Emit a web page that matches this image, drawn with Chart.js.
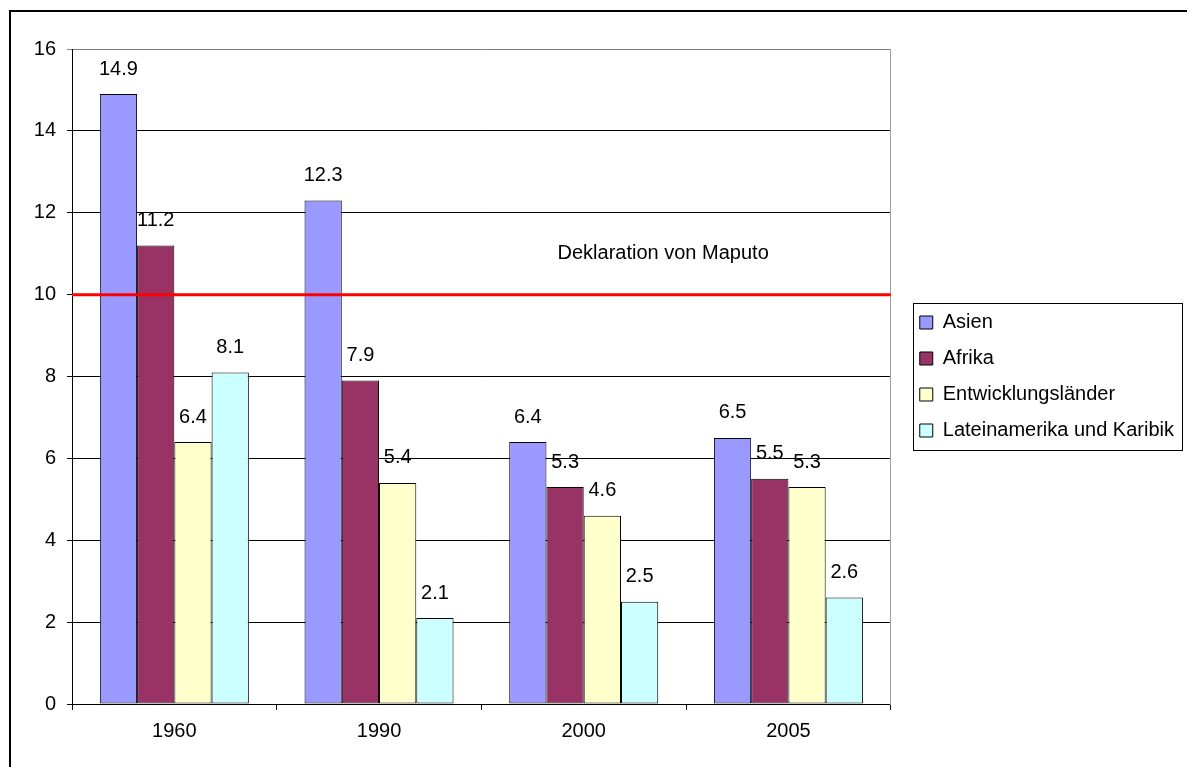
<!DOCTYPE html>
<html>
<head>
<meta charset="utf-8">
<script src="https://cdn.jsdelivr.net/npm/chart.js@4"></script>
<style>
  body { margin: 0; background: #fff; }
  canvas { display: block; }
</style>
</head>
<body>
<canvas id="chart" width="1187" height="767"></canvas>
<script>
// values
const years = ["1960", "1990", "2000", "2005"];
const asien = [14.9, 12.3, 6.4, 6.5];
const afrika = [11.2, 7.9, 5.3, 5.5];
const entwicklungslaender = [6.4, 5.4, 4.6, 5.3];
const lateinamerika = [8.1, 2.1, 2.5, 2.6];
const yTicks = [0, 2, 4, 6, 8, 10, 12, 14, 16];
const maputoLevel = 10;
const maputoText = "Deklaration von Maputo";

const font = "'Liberation Sans', Arial, sans-serif";

// outer frame, red line, its caption, numbers over the bars, legend frame
const extras = {
  id: "extras",
  beforeDraw(chart) {
    const ctx = chart.ctx;
    ctx.save();
    ctx.fillStyle = "#fff";
    ctx.fillRect(0, 0, chart.width, chart.height);
    ctx.strokeStyle = "#000";
    ctx.lineWidth = 2;
    ctx.strokeRect(10, 11, chart.width + 20, chart.height + 20);
    ctx.restore();
  },
  afterDatasetsDraw(chart) {
    const ctx = chart.ctx;
    const area = chart.chartArea;
    const y = chart.scales.y.getPixelForValue(maputoLevel);
    ctx.save();
    // Maputo line
    ctx.strokeStyle = "#ff0000";
    ctx.lineWidth = 3;
    ctx.beginPath();
    ctx.moveTo(area.left, y);
    ctx.lineTo(area.right, y);
    ctx.stroke();
    ctx.fillStyle = "#000";
    ctx.font = "20px " + font;
    ctx.textAlign = "center";
    ctx.textBaseline = "middle";
    ctx.fillText(maputoText, area.left + (area.right - area.left) * 0.722,
      chart.scales.y.getPixelForValue(11));
    // value labels
    chart.data.datasets.forEach((ds, i) => {
      chart.getDatasetMeta(i).data.forEach((bar, j) => {
        ctx.fillText(String(ds.data[j]), bar.x, bar.y - 25);
      });
    });
    // legend frame
    const boxes = chart.legend.legendHitBoxes;
    if (boxes && boxes.length) {
      const first = boxes[0];
      const last = boxes[boxes.length - 1];
      ctx.strokeStyle = "#000";
      ctx.lineWidth = 1;
      const l = Math.round(first.left - 7) + 0.5;
      const t = Math.round(first.top - 10) + 0.5;
      const r = 1182.5;
      const b = Math.round(last.top + last.height + 9) + 0.5;
      ctx.strokeRect(l, t, r - l, b - t);
    }
    ctx.restore();
  }
};

new Chart(document.getElementById("chart"), {
  type: "bar",
  data: {
    labels: years,
    datasets: [
      { label: "Asien", data: asien, backgroundColor: "#9999ff" },
      { label: "Afrika", data: afrika, backgroundColor: "#993366" },
      { label: "Entwicklungsländer", data: entwicklungslaender, backgroundColor: "#ffffcc" },
      { label: "Lateinamerika und Karibik", data: lateinamerika, backgroundColor: "#ccffff" },
    ].map((d) => Object.assign(d, { borderColor: "#000", borderWidth: 1, borderSkipped: false })),
  },
  options: {
    responsive: false,
    animation: false,
    devicePixelRatio: 1,
    layout: { padding: { left: 11, top: 49, right: 3, bottom: 15 } },
    datasets: { bar: { categoryPercentage: 0.728, barPercentage: 1 } },
    scales: {
      x: {
        grid: { drawOnChartArea: false, color: "#000", tickLength: 6, offset: true },
        border: { color: "#000" },
        ticks: { color: "#000", font: { family: font, size: 20 }, padding: 9 },
      },
      y: {
        min: 0,
        max: 16,
        afterBuildTicks(scale) {
          scale.ticks = yTicks.map((v) => ({ value: v }));
        },
        afterFit(scale) { scale.width = 61; },
        grid: {
          color: (c) => (c.tick && c.tick.value === 16 ? "#808080" : "#000"),
          tickLength: 5,
        },
        border: { color: "#000" },
        ticks: { color: "#000", font: { family: font, size: 20 }, padding: 11 },
      },
      // empty right axis: grey plot edge and the gap before the legend
      frame: {
        type: "linear",
        position: "right",
        min: 0,
        max: 16,
        afterFit(scale) { scale.width = 13; },
        grid: { drawOnChartArea: false, drawTicks: false },
        border: { color: "#a0a0a0" },
        ticks: { display: false },
      },
    },
    plugins: {
      legend: {
        position: "right",
        fullSize: false,
        maxWidth: 400,
        labels: {
          color: "#000",
          font: { family: font, size: 20 },
          boxWidth: 13,
          boxHeight: 13,
          padding: 16,
        },
      },
      tooltip: { enabled: false },
    },
  },
  plugins: [extras],
});
</script>
</body>
</html>
